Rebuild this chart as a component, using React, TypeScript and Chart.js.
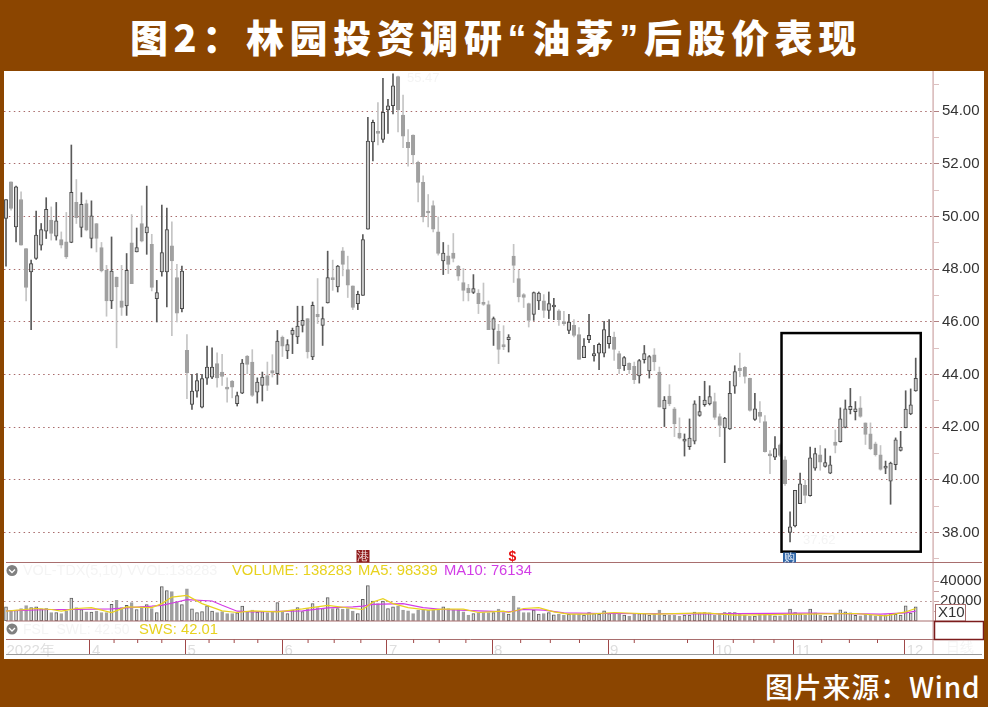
import React, { useEffect, useRef } from "react";
import { Chart, registerables } from "chart.js";

Chart.register(...registerables);

const TITLE_PARTS = ["图2：林园投资调研", "“", "油茅", "”", "后股价表现"];
const SOURCE = "图片来源：Wind";

const opens = [
  49.92,51.31,49.60,50.64,48.78,47.89,48.40,48.91,49.44,49.86,
  49.25,49.12,49.03,49.01,50.53,49.58,50.49,49.16,49.73,48.82,
  47.95,46.79,47.70,46.79,46.60,49.00,48.65,49.73,49.37,48.94,
  46.88,47.89,47.89,48.88,47.68,46.50,44.91,42.86,43.36,42.76,
  43.86,43.90,44.41,44.09,43.47,43.75,42.89,43.29,44.70,44.47,
  43.33,43.58,43.96,44.15,44.03,45.42,44.89,45.52,45.42,45.86,
  46.12,44.66,46.28,45.86,46.71,47.64,47.32,48.69,47.98,47.36,
  46.69,47.00,49.51,52.83,53.23,52.92,54.04,54.20,55.31,53.85,
  52.81,53.09,52.05,51.29,50.16,50.41,49.41,48.31,48.50,48.61,
  48.11,47.49,47.28,47.11,47.09,46.74,46.65,45.71,45.65,45.13,
  45.32,48.49,47.64,47.03,46.69,46.28,46.79,46.79,46.43,46.56,
  46.41,45.99,45.67,45.86,45.51,44.64,45.32,44.70,44.81,44.81,
  45.17,45.42,44.79,44.33,44.43,44.31,43.94,44.56,44.13,44.74,
  44.09,42.69,43.18,42.69,41.77,41.47,41.26,41.47,42.44,42.85,
  42.88,42.97,42.40,41.97,41.93,43.55,44.24,44.27,43.85,42.29,
  42.56,42.21,40.95,40.86,41.33,40.76,38.00,38.25,39.09,39.79,
  39.40,40.44,40.95,40.51,40.25,41.43,41.45,41.99,42.66,42.59,
  42.73,42.16,41.74,41.36,40.95,40.44,39.95,40.57,41.11,41.98,
  42.50,43.37,
];
const highs = [
  50.64,51.31,51.15,50.93,48.78,48.34,50.20,49.73,50.71,50.36,
  50.53,49.41,50.15,52.71,51.40,50.90,50.62,50.59,49.73,49.01,
  48.14,49.22,47.70,48.14,48.59,50.07,49.56,50.40,51.15,49.32,
  47.57,50.43,50.32,49.79,48.18,48.11,45.51,44.00,44.03,44.00,
  45.08,45.01,44.82,44.76,43.87,43.77,43.33,44.57,44.72,44.94,
  43.87,44.09,44.47,44.75,45.67,45.46,45.32,45.76,46.59,46.59,
  46.12,46.75,47.64,46.56,48.68,48.34,48.14,48.82,48.49,47.36,
  47.16,49.31,53.76,53.66,54.32,55.24,54.44,55.41,55.33,54.61,
  53.30,53.10,52.10,51.54,50.83,50.59,49.98,49.01,48.91,49.35,
  48.14,48.02,47.42,47.79,47.22,47.47,46.79,46.18,45.90,45.85,
  45.51,48.94,47.95,47.07,46.71,47.13,47.13,47.03,47.13,46.89,
  46.46,46.40,46.28,46.08,45.78,45.36,46.28,45.10,45.19,46.02,
  46.08,45.61,44.88,44.68,44.44,44.47,44.57,45.10,44.72,44.98,
  44.28,43.16,43.61,42.75,42.35,41.74,42.31,43.00,43.17,43.74,
  43.57,43.29,42.50,42.37,43.74,44.33,44.81,44.30,43.86,43.28,
  42.97,42.44,41.11,41.64,41.36,40.88,38.78,39.60,40.25,39.98,
  41.24,41.20,41.30,41.18,40.90,41.89,42.73,43.03,43.47,42.97,
  43.16,42.16,42.16,41.43,41.30,40.71,40.67,41.59,41.84,43.38,
  43.45,44.62,
];
const lows = [
  48.11,50.24,49.03,48.91,46.79,45.70,48.37,48.72,49.16,49.10,
  49.10,48.80,48.40,49.00,49.73,49.22,49.45,48.80,48.65,47.89,
  46.21,46.50,45.01,46.24,46.24,47.45,48.65,49.03,48.56,47.17,
  45.99,47.73,46.56,45.47,45.99,46.37,43.08,42.67,43.14,42.73,
  43.62,43.84,43.52,43.58,42.95,43.11,42.80,43.27,44.03,43.16,
  42.91,42.99,43.39,43.90,43.62,44.68,44.60,44.79,45.17,45.61,
  44.62,44.56,45.93,45.10,46.71,47.19,47.13,47.74,46.92,46.46,
  46.46,47.00,49.51,52.11,52.71,52.81,53.15,53.89,53.21,52.61,
  51.91,51.99,50.55,49.79,49.60,49.41,48.53,47.79,47.83,48.27,
  47.57,46.79,46.79,47.07,46.31,46.62,45.70,45.10,44.41,44.94,
  44.85,47.49,46.75,46.54,45.80,46.05,46.46,46.16,46.12,46.08,
  45.86,45.86,45.55,45.42,44.57,44.64,45.21,44.50,44.18,44.66,
  45.00,44.53,44.03,44.15,44.03,43.65,43.67,44.43,43.86,44.15,
  42.76,42.02,42.81,41.64,41.55,40.90,41.15,41.36,42.41,42.79,
  42.84,42.29,41.64,40.65,41.91,43.28,43.91,43.67,42.60,42.25,
  42.18,41.05,40.23,40.76,40.88,39.79,37.64,38.21,39.09,39.12,
  39.38,40.36,40.36,40.48,40.23,41.02,41.43,41.97,42.50,42.27,
  42.37,41.34,41.14,40.90,40.36,40.23,39.07,40.38,41.09,41.97,
  42.47,43.36,
];
const closes = [
  50.64,50.30,51.12,48.91,47.30,48.21,49.29,49.50,50.27,49.35,
  49.83,48.91,48.46,50.91,49.95,50.46,49.48,50.02,49.16,47.93,
  46.79,47.92,47.32,46.54,47.95,47.45,48.82,49.06,49.60,47.30,
  47.11,48.63,49.50,48.31,46.33,47.92,44.06,43.37,43.77,43.84,
  44.28,44.28,43.87,43.92,43.44,43.52,43.20,44.43,44.38,43.20,
  43.71,43.90,43.58,44.05,45.27,45.07,45.13,45.67,45.84,46.05,
  44.85,46.62,46.18,46.12,47.68,47.60,48.11,48.18,47.39,46.54,
  47.04,49.12,52.86,53.57,53.15,53.95,54.20,54.96,54.04,53.05,
  52.61,52.33,51.29,49.98,50.13,49.51,48.59,48.61,48.18,48.40,
  47.73,47.19,47.09,47.26,46.69,46.66,45.70,46.12,44.95,45.04,
  45.42,48.14,46.94,46.92,46.05,47.11,47.09,46.43,46.69,46.62,
  46.08,45.93,45.99,45.48,44.57,45.08,45.48,44.79,45.14,45.70,
  45.45,44.95,44.22,44.64,44.18,43.80,44.53,44.79,44.68,44.47,
  42.76,43.03,42.88,42.12,41.58,41.54,41.58,42.88,42.59,43.03,
  43.16,42.37,42.06,42.34,43.28,44.11,44.14,43.92,42.63,42.69,
  42.41,41.07,40.91,41.18,40.92,39.85,38.21,39.60,39.85,39.41,
  40.83,40.99,40.67,40.65,40.57,41.30,42.31,42.69,42.79,42.69,
  42.41,41.72,41.18,40.95,40.39,40.47,40.63,41.52,41.24,42.68,
  42.85,43.85,
];
// thousands of shares, axis labels show tens of thousands (the X10 box)
const volumes = [
  141,98,108,125,154,134,141,121,125,85,
  85,75,98,230,134,115,92,89,98,85,
  85,167,207,134,157,184,115,141,164,125,
  85,344,305,295,190,164,321,121,85,95,
  151,98,85,95,75,75,82,148,89,108,
  89,95,85,92,184,95,75,108,134,95,
  125,174,134,125,233,125,125,118,125,98,
  75,216,354,200,174,200,125,141,148,108,
  102,75,108,108,108,108,115,141,125,115,
  115,92,59,75,85,85,85,85,118,85,
  69,249,134,85,85,108,69,75,85,62,
  69,59,66,66,69,59,85,75,69,102,
  75,75,69,59,49,66,75,75,59,69,
  108,59,56,56,49,59,59,89,82,85,
  82,56,72,85,85,85,66,59,46,49,
  66,72,59,52,52,66,118,85,72,56,
  118,82,56,49,46,79,112,92,82,56,
  52,66,59,52,59,62,72,66,59,151,
  79,141,
];
const ma5Index = [1,7,10,12,15,18,22,25,30,32,34,37,40,44,47,50,55,60,65,70,72,74,76,78,81,85,88,92,95,100,101,104,107,110,113,117,122,130,140,146,160,170,176,180,182];
const ma5Values = [98,125,115,98,125,134,85,141,134,174,239,256,174,102,85,102,92,121,157,125,115,190,223,174,134,108,118,118,85,98,85,125,134,92,69,69,85,69,82,59,69,75,52,92,125];
const ma10Index = [1,10,15,22,30,32,35,37,42,44,47,50,60,65,70,72,74,80,84,88,95,101,104,108,112,120,140,160,175,180,182];
const ma10Values = [102,115,115,121,148,157,190,213,200,157,98,92,102,131,141,148,167,174,134,115,102,92,115,108,82,75,72,79,69,82,98];

const priceTicks = [37,38,39,40,41,42,43,44,45,46,47,48,49,50,51,52,53,54,55];
const volumeTicks = [100,200,300,400];
const dateTickIndex = [0.7,17.7,36.7,56.0,76.8,97.7,120.8,141.7,157.7,179.8];
const dateTickLabels = ["2022年","4","5","6","7","8","9","10","11","12"];
const weekTickIndex = [22.5,27.2,32,41.4,46.4,51.1,61.1,66.3,71.6,82.1,87.2,92.5,103.4,109.3,115.1,126,136.6,145.7,149.8,153.8,163.3,168.8,174.4];
const boxIndex = [155.3, 183];
const boxPrice = [45.57, 37.27];

const BROWN = "#8b4500";
const PANE = "#a86e6e";
const FAINT = "#f4f4f4";
const FONT = '"Liberation Sans", Arial, sans-serif';
const LEFT = 4, TOP = 71;

const indices = opens.map((_, i) => i + 1);
const isUp = (i: number) => closes[i] >= opens[i];
const pairs = (xs: number[], ys: number[]) => xs.map((x, i) => ({ x, y: ys[i] }));

const fixedWidth = (s: any) => {
  s.width = 51;
  s.paddingTop = 0;
  s.paddingBottom = 0;
};

const chrome = {
  id: "chrome",
  afterDatasetsDraw(chart: any) {
    const { ctx, scales } = chart;
    const xs = scales.x, py = scales.y;
    ctx.save();
    ctx.translate(-LEFT, -TOP);
    // axis spine through all panes
    ctx.strokeStyle = "#dcc0c0";
    ctx.lineWidth = 1.5;
    ctx.beginPath(); ctx.moveTo(933, 71); ctx.lineTo(933, 655); ctx.stroke();
    // pane separators
    ctx.strokeStyle = PANE;
    ctx.lineWidth = 1;
    for (const [y, x2] of [[562.5, 982], [621, 935], [639.5, 935]]) {
      ctx.beginPath(); ctx.moveTo(6, y); ctx.lineTo(x2, y); ctx.stroke();
    }
    ctx.strokeStyle = "#999";
    ctx.beginPath(); ctx.moveTo(6, 654.5); ctx.lineTo(982, 654.5); ctx.stroke();
    // short week ticks on the date strip
    ctx.strokeStyle = "#a04848";
    for (const w of weekTickIndex) {
      const x = xs.getPixelForValue(w) + LEFT;
      ctx.beginPath(); ctx.moveTo(x, 639.5); ctx.lineTo(x, 643); ctx.stroke();
    }
    // highlighted box, placed through the scales
    ctx.strokeStyle = "#000";
    ctx.lineWidth = 2.5;
    const bx1 = xs.getPixelForValue(boxIndex[0]) + LEFT;
    const bx2 = xs.getPixelForValue(boxIndex[1]) + LEFT;
    const by1 = py.getPixelForValue(boxPrice[0]) + TOP;
    const by2 = py.getPixelForValue(boxPrice[1]) + TOP;
    ctx.strokeRect(bx1, by1, bx2 - bx1, by2 - by1);

    const text = (s: string, x: number, y: number, color: string, size = 14.8, align = "left") => {
      ctx.font = `${size}px ${FONT}`;
      ctx.fillStyle = color;
      ctx.textAlign = align;
      ctx.textBaseline = "middle";
      ctx.fillText(s, x, y);
    };
    // faint high / low markers
    text("55.47", 407, 78, FAINT, 13);
    text("37.62", 803, 540, FAINT, 13);
    // pane legends
    text("VOL-TDX(5,10) VVOL:138283", 23, 571, FAINT, 14.4);
    text("VOLUME: 138283", 232, 571, "#e8d21e");
    text("MA5: 98339", 358, 571, "#e8d21e");
    text("MA10: 76134", 444, 571, "#d23ce6");
    text("FSL  SWL: 42.50", 23, 630, FAINT, 14);
    text("SWS: 42.01", 139, 630, "#e8d21e");
    text("日线", 946, 648, FAINT, 14);
    // pane round buttons
    for (const y of [570.5, 629]) {
      ctx.fillStyle = "#808080";
      ctx.beginPath(); ctx.arc(12, y, 5.5, 0, Math.PI * 2); ctx.fill();
      ctx.strokeStyle = "#fff";
      ctx.lineWidth = 1.3;
      ctx.beginPath(); ctx.moveTo(9, y - 1); ctx.lineTo(12, y + 2); ctx.lineTo(15, y - 1); ctx.stroke();
    }
    // event flags
    ctx.fillStyle = "#8f1a1a";
    ctx.fillRect(356.5, 550, 13, 12.5);
    text("港", 363, 556.5, "#f3dede", 12, "center");
    ctx.font = `bold 14px ${FONT}`;
    ctx.fillStyle = "#e81010";
    ctx.textAlign = "center";
    ctx.textBaseline = "middle";
    ctx.fillText("$", 512.5, 557);
    ctx.fillStyle = "#2f66a8";
    ctx.fillRect(783, 552.5, 13, 10);
    text("购", 789.5, 557.5, "#e6eef8", 11, "center");
    // X10 box and empty box
    ctx.fillStyle = "#fff";
    ctx.fillRect(935.5, 604.5, 30, 16.5);
    ctx.strokeStyle = PANE;
    ctx.lineWidth = 1;
    ctx.strokeRect(935.5, 604.5, 30, 16.5);
    text("X10", 938, 613, "#333", 15);
    ctx.strokeStyle = "#7c1c1c";
    ctx.lineWidth = 1.5;
    ctx.strokeRect(934.5, 621.5, 49, 18);
    ctx.restore();
  },
};

export default function App() {
  const ref = useRef<HTMLCanvasElement>(null);
  useEffect(() => {
    const cfg: any = {
      type: "bar",
      plugins: [chrome],
      data: {
        datasets: [
          {
            type: "line", xAxisID: "x", yAxisID: "yVol", order: 0,
            data: pairs(ma5Index, ma5Values),
            borderColor: "#e8d21e", borderWidth: 1.2, pointRadius: 0,
          },
          {
            type: "line", xAxisID: "x", yAxisID: "yVol", order: 0,
            data: pairs(ma10Index, ma10Values),
            borderColor: "#d23ce6", borderWidth: 1.2, pointRadius: 0,
          },
          {
            xAxisID: "x", yAxisID: "yVol", order: 1, grouped: false,
            data: indices.map((x, i) => ({ x, y: volumes[i] })),
            barThickness: 3,
            backgroundColor: (c: any) => (isUp(c.dataIndex) ? "#d8d8d8" : "#a0a0a0"),
            borderColor: (c: any) => (isUp(c.dataIndex) ? "#606060" : "#a0a0a0"),
            borderWidth: 1,
            borderSkipped: false,
          },
          {
            xAxisID: "x", yAxisID: "y", order: 2, grouped: false,
            data: indices.map((x, i) => ({ x, y: [opens[i], closes[i]] })),
            barThickness: 3.5,
            minBarLength: 2,
            backgroundColor: (c: any) => (isUp(c.dataIndex) ? "#c8c8c8" : "#a0a0a0"),
            borderColor: (c: any) => (isUp(c.dataIndex) ? "#484848" : "#a0a0a0"),
            borderWidth: 1,
            borderSkipped: false,
          },
          {
            xAxisID: "x", yAxisID: "y", order: 3, grouped: false,
            data: indices.map((x, i) => ({ x, y: [lows[i], highs[i]] })),
            barThickness: 1,
            backgroundColor: (c: any) => (isUp(c.dataIndex) ? "#5a5a5a" : "#c4c4c4"),
          },
        ],
      },
      options: {
        responsive: false,
        animation: false,
        devicePixelRatio: 1,
        layout: { padding: 0 },
        plugins: { legend: { display: false }, title: { display: false }, tooltip: { enabled: false } },
        scales: {
          x: {
            type: "linear",
            position: "bottom",
            offset: false,
            min: 0.602,
            max: 185.44,
            afterFit: (s: any) => { s.height = 20; s.paddingLeft = 0; s.paddingRight = 0; },
            afterBuildTicks: (s: any) => { s.ticks = dateTickIndex.map((value) => ({ value })); },
            border: { display: false },
            grid: {
              offset: false,
              drawOnChartArea: false,
              tickLength: 15,
              tickColor: (c: any) => (c.index === 0 ? "transparent" : "#a04848"),
            },
            ticks: {
              autoSkip: false,
              maxRotation: 0,
              align: "start",
              padding: -12,
              labelOffset: 2,
              color: "#dedede",
              font: { family: FONT, size: 15 },
              callback: (_: any, i: number) => dateTickLabels[i],
            },
          },
          y: {
            position: "right",
            stack: "panes",
            stackWeight: 492,
            min: 36.84,
            max: 55.52,
            afterFit: fixedWidth,
            afterBuildTicks: (s: any) => { s.ticks = priceTicks.map((value) => ({ value })); },
            border: { color: "#dcc0c0", dash: [1.5, 3.4] },
            grid: {
              tickLength: 6,
              color: (c: any) => (c.tick && c.tick.value % 2 === 0 ? "#a86a6a" : "transparent"),
              tickColor: (c: any) => (c.tick && c.tick.value % 2 === 0 ? "#b08080" : "#dcc0c0"),
              tickBorderDash: [],
              lineWidth: 1,
            },
            ticks: {
              autoSkip: false,
              padding: 3,
              color: "#333",
              font: { family: FONT, size: 15 },
              callback: (v: number) => (v % 2 === 0 ? v.toFixed(2) : ""),
            },
          },
          yVol: {
            position: "right",
            stack: "panes",
            stackWeight: 58,
            min: 0,
            max: 580,
            afterFit: fixedWidth,
            afterBuildTicks: (s: any) => { s.ticks = volumeTicks.map((value) => ({ value })); },
            border: { color: "#dcc0c0", dash: [1.5, 3.4] },
            grid: {
              tickLength: 6,
              color: (c: any) => (c.tick && c.tick.value === 200 ? "#b08888" : "transparent"),
              tickColor: "#c8a0a0",
              tickBorderDash: [],
            },
            ticks: {
              autoSkip: false,
              padding: 1,
              color: "#333",
              font: { family: FONT, size: 15 },
              callback: (v: number) => (v % 200 === 0 ? String(v * 100) : ""),
            },
          },
          ySws: {
            position: "right",
            stack: "panes",
            stackWeight: 18,
            min: 0,
            max: 1,
            afterFit: fixedWidth,
            afterBuildTicks: (s: any) => { s.ticks = []; },
            border: { color: "#dcc0c0" },
            grid: { display: false },
            ticks: { display: false },
          },
        },
      },
    };
    const chart = new Chart(ref.current as any, cfg);
    return () => chart.destroy();
  }, []);

  return (
    <div style={{ position: "absolute", left: 0, top: 0, width: 988, height: 707, background: BROWN, overflow: "hidden" }}>
      <div
        style={{
          position: "absolute", left: 130, top: 10, width: 740, height: 52,
          color: "#fff", fontFamily: '"Noto Sans CJK SC"', fontWeight: 900, fontSize: 38,
          lineHeight: "52px", letterSpacing: 5.6, whiteSpace: "nowrap",
        }}
      >
        {TITLE_PARTS[0]}
        <span style={{ fontFamily: '"Liberation Sans"', fontWeight: 700 }}>{TITLE_PARTS[1]}</span>
        {TITLE_PARTS[2]}
        <span style={{ fontFamily: '"Liberation Sans"', fontWeight: 700 }}>{TITLE_PARTS[3]}</span>
        {TITLE_PARTS[4]}
      </div>
      <div style={{ position: "absolute", left: LEFT, top: TOP, width: 980, height: 588, background: "#fff" }}>
        <canvas ref={ref} width={980} height={588} style={{ display: "block", filter: "blur(0.35px)" }} />
      </div>
      <div
        style={{
          position: "absolute", left: 765, top: 666, height: 40, color: "#fff",
          fontFamily: '"Noto Sans CJK SC"', fontWeight: 500, fontSize: 28, lineHeight: "40px",
          letterSpacing: 0.8, whiteSpace: "nowrap",
        }}
      >
        {SOURCE}
      </div>
    </div>
  );
}
